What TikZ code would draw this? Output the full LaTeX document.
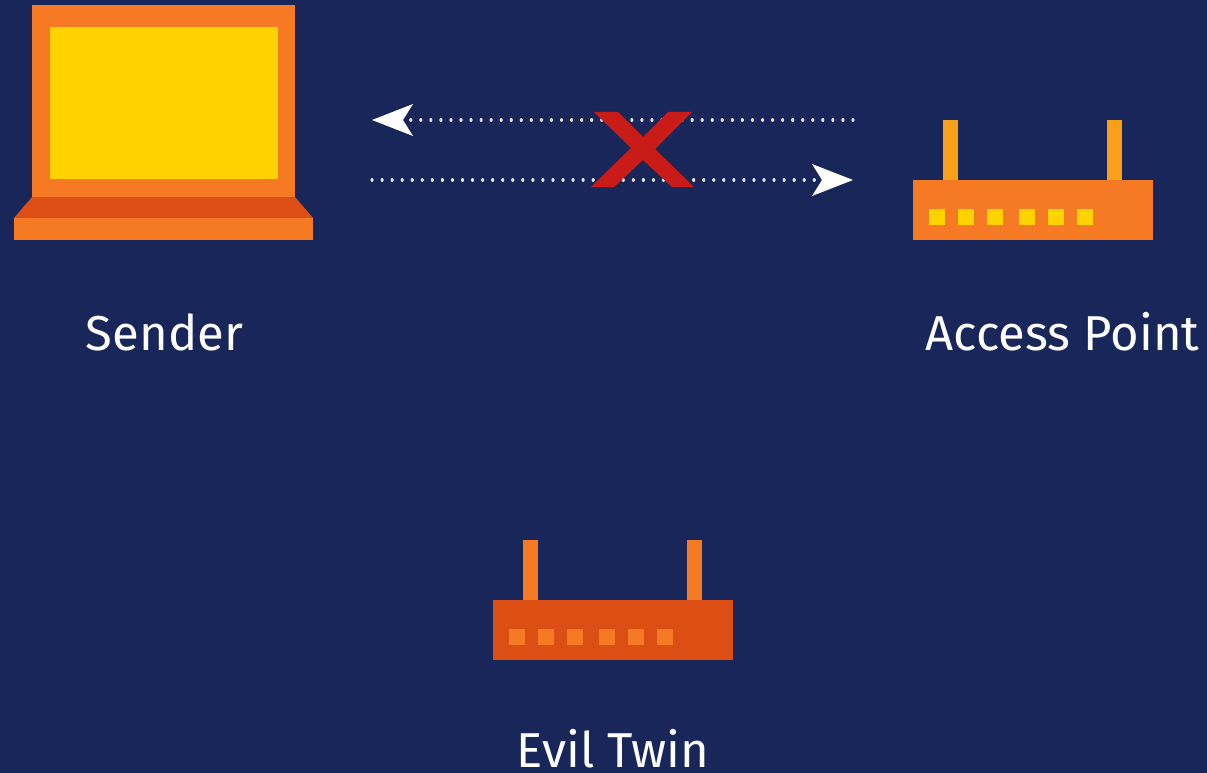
\documentclass[tikz,border=0pt]{standalone}
\usepackage{fontspec}
\setmainfont{Fira Sans}
\usetikzlibrary{arrows.meta}
\definecolor{bgnavy}{HTML}{19265A}
\definecolor{orangeA}{HTML}{F57A23}
\definecolor{orangeB}{HTML}{DC4E14}
\definecolor{ambre}{HTML}{F8A01A}
\definecolor{yel}{HTML}{FFD200}
\definecolor{xred}{HTML}{C91B18}
\tikzset{
  lbl/.style={text=white,font=\fontsize{49}{49}\selectfont,anchor=base,inner sep=0pt},
  link/.style={white!90!bgnavy,line width=3.1pt,line cap=round,dash pattern=on 0.1pt off 9.95pt,
    -{Stealth[length=41pt,width=32pt,inset=10pt,line width=0pt,white]}},
}
\newcommand{\routerdraw}[5]{%
  % #1 x offset, #2 y offset, #3 body, #4 antenna, #5 led
  \begin{scope}[shift={(#1,#2)}]
    \fill[#4] (943,120) rectangle (958,180);
    \fill[#4] (1107,120) rectangle (1122,180);
    \fill[#3] (913,180) rectangle (1153,240);
    \foreach \a in {929,957.5,987,1018.5,1047.5,1077}
      \fill[#5] (\a,209) rectangle +(16,16);
  \end{scope}}
\begin{document}
\begin{tikzpicture}[x=1pt,y=-1pt]
\useasboundingbox (0,0) rectangle (1207,773);
\fill[bgnavy] (0,0) rectangle (1207,773);
% laptop
\fill[orangeA] (32,5) rectangle (295,197);
\fill[yel] (50,27) rectangle (278,179);
\fill[orangeB] (32,197) -- (295,197) -- (313,218) -- (14,218) -- cycle;
\fill[orangeA] (14,218) rectangle (313,240);
% routers
\routerdraw{0}{0}{orangeA}{ambre}{yel}
\routerdraw{-420}{420}{orangeB}{orangeA}{orangeA}
% labels
\node[lbl] (sender) at (164.5,350) {Sender};
\node[lbl] (ap) at (1062.5,350) {Access Point};
\node[lbl] (evil) at (613,767.5) {Evil Twin};
% connectors
\coordinate (topR) at (853,120);
\coordinate (topL) at (372,120);
\coordinate (botL) at (372,180);
\coordinate (botR) at (853,180);
\draw[link] (topR) -- (topL);
\draw[link] (botL) -- (botR);
% cross
\fill[xred] (594,112) -- (618,112) -- (643,137) -- (668,112) -- (692,112) -- (655,149)
  -- (694,187) -- (672,187) -- (643,160) -- (614,187) -- (591,187) -- (631,148) -- cycle;
\end{tikzpicture}
\end{document}
